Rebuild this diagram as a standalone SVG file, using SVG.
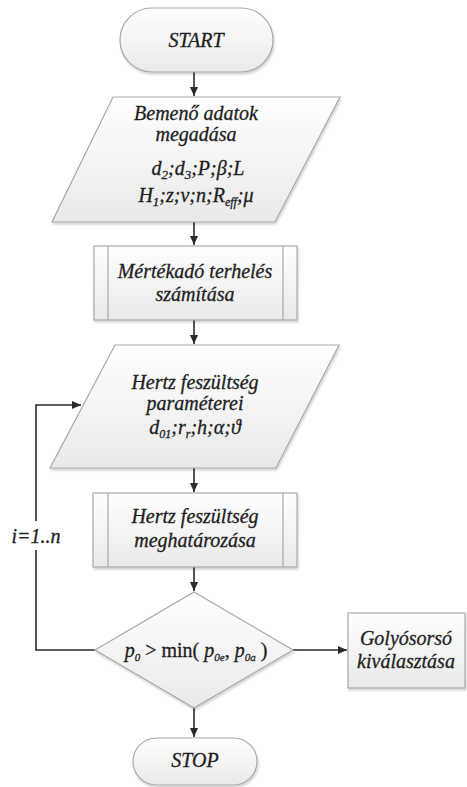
<svg xmlns="http://www.w3.org/2000/svg" width="467" height="787" viewBox="0 0 467 787">
<style>
.shape{fill:url(#g);stroke:#a8a8a8;stroke-width:1.2;filter:url(#sh)}
.inner{stroke:#a8a8a8;stroke-width:1.2;fill:none}
.t{font-family:'Liberation Serif','Times New Roman','DejaVu Serif',serif;font-style:italic;font-size:20px;fill:#1e1e1e;stroke:#1e1e1e;stroke-width:0.3;text-anchor:middle}
.up{font-style:normal}
.c{fill:none;stroke:#2a2a2a;stroke-width:1.6}
</style>
<defs>
<linearGradient id="g" x1="0" y1="0" x2="0" y2="1">
<stop offset="0" stop-color="#ffffff"/>
<stop offset="1" stop-color="#e9e9e9"/>
</linearGradient>
<filter id="sh" x="-10%" y="-10%" width="120%" height="130%">
<feDropShadow dx="1" dy="2" stdDeviation="1.2" flood-color="#000" flood-opacity="0.18"/>
</filter>
<marker id="a" markerWidth="10" markerHeight="10" refX="9" refY="4" orient="auto" markerUnits="userSpaceOnUse">
<path d="M0,0 L9,4 L0,8 Z" fill="#2a2a2a"/>
</marker>
</defs>

<g id="connectors">
<path class="c" d="M194,72 V96" marker-end="url(#a)"/>
<path class="c" d="M194,222 V245" marker-end="url(#a)"/>
<path class="c" d="M194,320 V344" marker-end="url(#a)"/>
<path class="c" d="M194,468 V492" marker-end="url(#a)"/>
<path class="c" d="M194,567 V591" marker-end="url(#a)"/>
<path class="c" d="M194,708 V737" marker-end="url(#a)"/>
<path class="c" d="M293,650 H347" marker-end="url(#a)"/>
<path class="c" d="M95,650 H36 V550"/>
<path class="c" d="M36,521 V405 H81" marker-end="url(#a)"/>
<text class="t" x="36" y="543">i=1..n</text>
</g>

<g id="start">
<rect class="shape" x="120" y="8" width="153" height="64" rx="32" ry="32"/>
<text class="t" x="196" y="47">START</text>
</g>

<g id="input">
<polygon class="shape" points="113,97 340,97 275,222 52,222"/>
<text class="t" x="196" y="120">Bemenő adatok</text>
<text class="t" x="196" y="141">megadása</text>
<text class="t" x="198" y="175">d<tspan font-size="13" dy="4">2</tspan><tspan dy="-4">;d</tspan><tspan font-size="13" dy="4">3</tspan><tspan dy="-4">;P;β;L</tspan></text>
<text class="t" x="196" y="202">H<tspan font-size="13" dy="4">1</tspan><tspan dy="-4">;z;v;n;R</tspan><tspan font-size="12" dy="4">eff</tspan><tspan dy="-4">;μ</tspan></text>
</g>

<g id="load">
<rect class="shape" x="94" y="246" width="203" height="74"/>
<line class="inner" x1="108" y1="246" x2="108" y2="320"/>
<line class="inner" x1="283" y1="246" x2="283" y2="320"/>
<text class="t" x="195" y="278">Mértékadó terhelés</text>
<text class="t" x="195" y="301">számítása</text>
</g>

<g id="hertzparams">
<polygon class="shape" points="115,345 339,345 276,468 50,468"/>
<text class="t" x="195" y="389">Hertz feszültség</text>
<text class="t" x="195" y="410">paraméterei</text>
<text class="t" x="195" y="434">d<tspan font-size="12" dy="4">01</tspan><tspan dy="-4">;r</tspan><tspan font-size="12" dy="4">r</tspan><tspan dy="-4">;h;α;ϑ</tspan></text>
</g>

<g id="hertzcalc">
<rect class="shape" x="93" y="493" width="204" height="74"/>
<line class="inner" x1="108" y1="493" x2="108" y2="567"/>
<line class="inner" x1="283" y1="493" x2="283" y2="567"/>
<text class="t" x="195" y="523">Hertz feszültség</text>
<text class="t" x="195" y="547">meghatározása</text>
</g>

<g id="decision">
<polygon class="shape" points="194,592 293,650 194,708 95,650"/>
<text class="t" x="196" y="657">p<tspan font-size="11" dy="4">0</tspan><tspan class="up" dy="-4"> &gt; min( </tspan>p<tspan font-size="11" dy="4">0e</tspan><tspan class="up" dy="-4">, </tspan>p<tspan font-size="11" dy="4">0a</tspan><tspan class="up" dy="-4"> )</tspan></text>
</g>

<g id="select">
<rect class="shape" x="348" y="613" width="117" height="75"/>
<text class="t" x="406" y="645">Golyósorsó</text>
<text class="t" x="406" y="668">kiválasztása</text>
</g>

<g id="stop">
<rect class="shape" x="133" y="738" width="124" height="47" rx="23.5" ry="23.5"/>
<text class="t" x="195" y="767">STOP</text>
</g>
</svg>
